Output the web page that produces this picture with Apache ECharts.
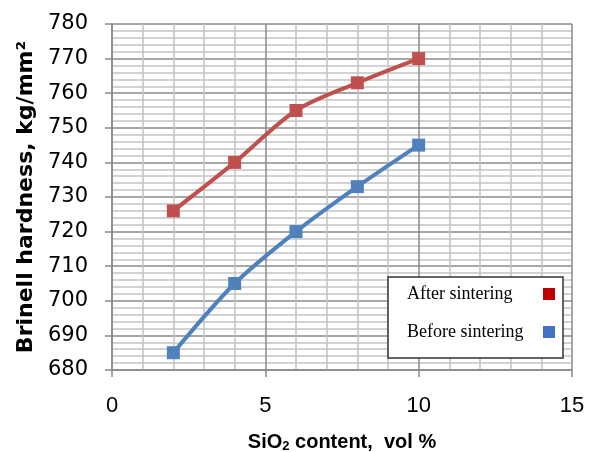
<!DOCTYPE html>
<html>
<head>
<meta charset="utf-8">
<script src="https://cdn.jsdelivr.net/npm/echarts@6/dist/echarts.min.js"></script>
<style>html,body{margin:0;padding:0;background:#fff}#c{width:595px;height:452px}</style>
</head>
<body>
<div id="c"></div>
<script>
var xValues = [2, 4, 6, 8, 10];
var afterSintering = [726, 740, 755, 763, 770];
var beforeSintering = [685, 705, 720, 733, 745];
var seriesNames = ['After sintering', 'Before sintering'];

function pairs(xs, ys) { return xs.map(function (x, i) { return [x, ys[i]]; }); }

var chart = echarts.init(document.getElementById('c'), null, {renderer: 'canvas'});
chart.setOption({
  animation: false,
  backgroundColor: '#fff',
  grid: {left: 112, right: 23, top: 24, bottom: 82, show: false, containLabel: false, outerBoundsMode: 'none'},
  xAxis: {
    type: 'value', min: 0, max: 15, interval: 5,
    axisLine: {show: true, lineStyle: {color: '#8a8a8a', width: 1.5}},
    axisTick: {show: true, length: 7, lineStyle: {color: '#8a8a8a', width: 1.5}},
    axisLabel: {margin: 25, fontSize: 22, color: '#000', fontFamily: 'Liberation Sans'},
    splitLine: {show: true, lineStyle: {color: '#8a8a8a', width: 1.5}},
    minorTick: {show: false, splitNumber: 5},
    minorSplitLine: {show: true, lineStyle: {color: '#c4c4c4', width: 1.5}},
    name: '{a|SiO}{s|2}{a| content,  vol %}',
    nameLocation: 'middle', nameGap: 61,
    nameTextStyle: {
      rich: {
        a: {fontSize: 20, fontWeight: 'bold', fontFamily: 'Liberation Sans', color: '#000'},
        s: {fontSize: 13, fontWeight: 'bold', fontFamily: 'Liberation Sans', color: '#000', verticalAlign: 'bottom', padding: [9, 0, 0, 0]}
      }
    }
  },
  yAxis: {
    type: 'value', min: 680, max: 780, interval: 10,
    axisLine: {show: true, lineStyle: {color: '#8a8a8a', width: 1.5}},
    axisTick: {show: true, length: 7, lineStyle: {color: '#8a8a8a', width: 1.5}},
    axisLabel: {margin: 24, fontSize: 21, color: '#000', fontFamily: 'DejaVu Sans'},
    splitLine: {show: true, lineStyle: {color: '#8a8a8a', width: 1.5}},
    minorTick: {show: false, splitNumber: 5},
    minorSplitLine: {show: true, lineStyle: {color: '#c4c4c4', width: 1.5}},
    name: 'Brinell hardness, kg/mm²',
    nameLocation: 'middle', nameGap: 68, nameRotate: 90,
    nameTextStyle: {fontSize: 22, fontWeight: 'bold', fontFamily: 'DejaVu Sans', color: '#000'}
  },
  legend: {
    left: 388, top: 277,
    orient: 'vertical', align: 'right',
    backgroundColor: '#fff', borderColor: '#333', borderWidth: 1.5,
    padding: [7, 8, 16, 19],
    itemGap: 18, itemWidth: 12, itemHeight: 12,
    icon: 'rect',
    formatter: function (name) { return '{t|' + name + '}'; },
    textStyle: {
      fontSize: 18, fontFamily: 'Liberation Serif', color: '#000', lineHeight: 20,
      rich: {t: {width: 131, align: 'left', fontSize: 18, fontFamily: 'Liberation Serif', color: '#000', lineHeight: 20}}
    },
    data: [
      {name: seriesNames[0], itemStyle: {color: '#c00000'}},
      {name: seriesNames[1], itemStyle: {color: '#4472c4'}}
    ]
  },
  series: [
    {
      name: seriesNames[0], type: 'line', data: pairs(xValues, afterSintering),
      smooth: 0.3, symbol: 'rect', symbolSize: 13,
      lineStyle: {color: '#c0504d', width: 4}, itemStyle: {color: '#c0504d'}
    },
    {
      name: seriesNames[1], type: 'line', data: pairs(xValues, beforeSintering),
      smooth: 0.3, symbol: 'rect', symbolSize: 13,
      lineStyle: {color: '#4f81bd', width: 4}, itemStyle: {color: '#4f81bd'}
    }
  ]
});
</script>
</body>
</html>
